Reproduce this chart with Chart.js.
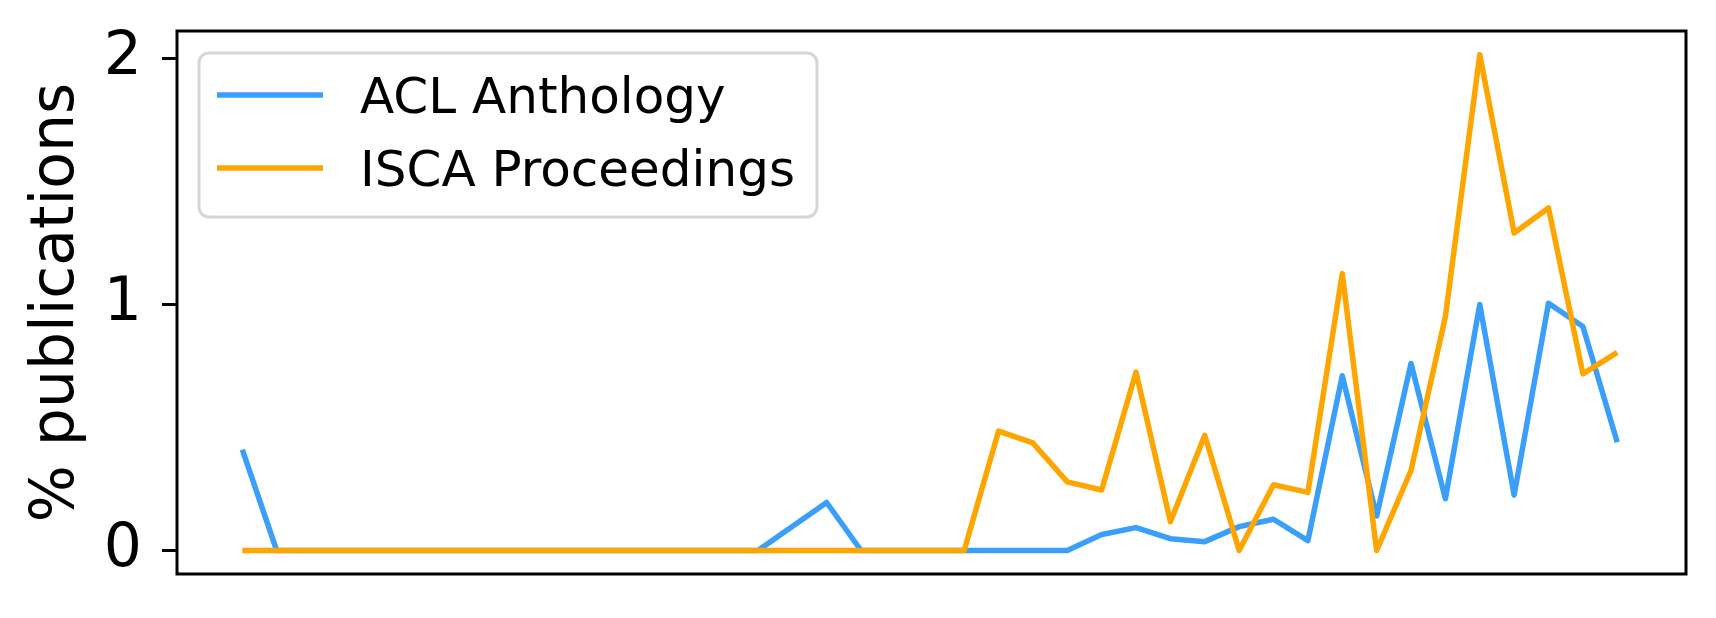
<!DOCTYPE html>
<html>
<head>
<meta charset="utf-8">
<script src="https://cdn.jsdelivr.net/npm/chart.js@4.4.1/dist/chart.umd.min.js"></script>
<style>
    html, body { margin: 0; padding: 0; background: #ffffff; }
    #wrap { width: 1716px; height: 618px; position: relative; }
</style>
</head>
<body>
<div id="wrap"><canvas id="pubChart"></canvas></div>
<script>
// x positions are plain indices, the original axis has no tick labels
const periods = Array.from({ length: 41 }, (_, i) => i);

const aclValues = [
    0.41, 0, 0, 0, 0, 0, 0, 0, 0, 0,
    0, 0, 0, 0, 0, 0, 0.098, 0.195, 0, 0,
    0, 0, 0, 0, 0, 0.065, 0.093, 0.048, 0.036, 0.097,
    0.127, 0.04, 0.71, 0.14, 0.76, 0.21, 1.0, 0.225, 1.005, 0.91,
    0.44
];

const iscaValues = [
    0, 0, 0, 0, 0, 0, 0, 0, 0, 0,
    0, 0, 0, 0, 0, 0, 0, 0, 0, 0,
    0, 0, 0.485, 0.437, 0.279, 0.246, 0.725, 0.117, 0.468, 0,
    0.267, 0.236, 1.125, 0, 0.325, 0.95, 2.015, 1.29, 1.392, 0.718,
    0.805
];

const yTicks = [0, 1, 2];

const FONT = "'DejaVu Sans', 'Liberation Sans', sans-serif";

// black box around the plot area (matplotlib spines)
const framePlugin = {
    id: 'frame',
    afterDatasetsDraw(chart) {
        const { ctx, chartArea: a } = chart;
        ctx.save();
        ctx.strokeStyle = '#000000';
        ctx.lineWidth = 3;
        ctx.strokeRect(a.left, a.top, a.right - a.left, a.bottom - a.top);
        ctx.restore();
    }
};

// legend drawn inside the plot, upper left
const insideLegend = {
    id: 'insideLegend',
    afterDraw(chart) {
        const { ctx, chartArea: a } = chart;
        const sets = chart.data.datasets;
        const x = a.left + 22;
        const y = a.top + 22;
        const textX = x + 161;

        ctx.save();
        ctx.font = '50px ' + FONT;
        let maxW = 0;
        sets.forEach(ds => { maxW = Math.max(maxW, ctx.measureText(ds.label).width); });
        const w = textX + maxW + 22 - x;
        const h = 164;

        ctx.beginPath();
        ctx.roundRect(x, y, w, h, 10);
        ctx.fillStyle = 'rgba(255,255,255,0.8)';
        ctx.fill();
        ctx.strokeStyle = '#d6d6d6';
        ctx.lineWidth = 3;
        ctx.stroke();

        sets.forEach((ds, i) => {
            const ly = y + 42 + i * 73;
            ctx.beginPath();
            ctx.moveTo(x + 18, ly);
            ctx.lineTo(x + 124, ly);
            ctx.strokeStyle = ds.borderColor;
            ctx.lineWidth = 5.5;
            ctx.stroke();

            ctx.fillStyle = '#000000';
            ctx.textBaseline = 'alphabetic';
            ctx.textAlign = 'left';
            ctx.fillText(ds.label, textX, ly + 18);
        });
        ctx.restore();
    }
};

const ctx = document.getElementById('pubChart').getContext('2d');
new Chart(ctx, {
    type: 'line',
    data: {
        labels: periods,
        datasets: [
            {
                label: 'ACL Anthology',
                data: aclValues,
                borderColor: '#3a9ffb',
                borderWidth: 5.5,
                pointRadius: 0,
                tension: 0,
                borderJoinStyle: 'round',
                order: 1
            },
            {
                label: 'ISCA Proceedings',
                data: iscaValues,
                borderColor: '#ffa500',
                borderWidth: 5.5,
                pointRadius: 0,
                tension: 0,
                borderJoinStyle: 'round',
                order: 0
            }
        ]
    },
    options: {
        responsive: true,
        maintainAspectRatio: false,
        animation: false,
        devicePixelRatio: 1,
        layout: {
            padding: { left: 0, top: 31, right: 30, bottom: 44 }
        },
        scales: {
            x: {
                type: 'linear',
                display: false,
                min: -1.9,
                max: 42
            },
            y: {
                type: 'linear',
                min: -0.0955,
                max: 2.111,
                afterBuildTicks: scale => {
                    scale.ticks = yTicks.map(v => ({ value: v }));
                },
                afterFit: scale => {
                    scale.width = 177;
                    // labels may overhang the plot box, keep the box fixed
                    scale.paddingTop = 0;
                    scale.paddingBottom = 0;
                },
                border: { display: false },
                grid: {
                    display: true,
                    drawOnChartArea: false,
                    drawTicks: true,
                    tickLength: 15,
                    tickWidth: 3,
                    tickColor: '#000000'
                },
                ticks: {
                    padding: 20,
                    color: '#000000',
                    font: { family: FONT, size: 60 }
                },
                title: {
                    display: true,
                    text: '% publications',
                    color: '#000000',
                    padding: { top: 21, bottom: 0 },
                    font: { family: FONT, size: 60 }
                }
            }
        },
        plugins: {
            legend: { display: false },
            tooltip: { enabled: false }
        }
    },
    plugins: [framePlugin, insideLegend]
});
</script>
</body>
</html>
